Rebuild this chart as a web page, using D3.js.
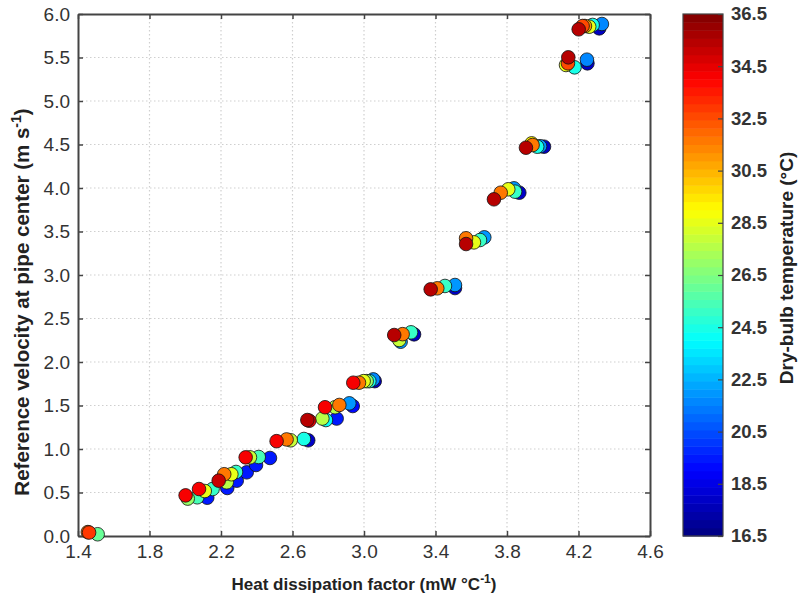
<!DOCTYPE html>
<html lang="en">
<head>
<meta charset="utf-8">
<title>Heat dissipation factor vs reference velocity</title>
<script src="https://cdn.jsdelivr.net/npm/d3@7"></script>
<style>
  body { margin: 0; background: #fff; }
  svg { display: block; font-family: "Liberation Sans", Arial, sans-serif; }
</style>
</head>
<body>
<svg id="chart" width="798" height="602"></svg>
<script>
// data
var heatFactor = [
  1.455, 1.462, 1.51,
  2.014, 2.002, 2.067, 2.077, 2.109, 2.123, 2.153, 2.187, 2.235, 2.232,
  2.218, 2.258, 2.284, 2.288, 2.344, 2.338, 2.362, 2.396, 2.411, 2.474,
  2.511, 2.567, 2.59, 2.664, 2.688, 2.683, 2.694, 2.767, 2.787, 2.847,
  2.782, 2.838, 2.862, 2.918, 2.937,
  2.94, 2.972, 2.998, 3.015, 3.03, 3.052, 3.06,
  3.169, 3.197, 3.205, 3.216, 3.263, 3.28,
  3.373, 3.41, 3.453, 3.509, 3.509,
  3.571, 3.571, 3.615, 3.649, 3.673,
  3.727, 3.765, 3.807, 3.839, 3.845, 3.869,
  3.906, 3.938, 3.943, 3.969, 3.985, 4.007,
  4.13, 4.141, 4.143, 4.178, 4.25, 4.247,
  4.201, 4.223, 4.236, 4.26, 4.279, 4.316, 4.331
];
var velocity = [
  0.045, 0.04, 0.02,
  0.43, 0.467, 0.445, 0.54, 0.517, 0.44, 0.54, 0.636, 0.552, 0.617,
  0.71, 0.71, 0.736, 0.636, 0.732, 0.904, 0.904, 0.816, 0.908, 0.897,
  1.09, 1.11, 1.10, 1.115, 1.10, 1.333, 1.325, 1.35, 1.333, 1.35,
  1.48, 1.48, 1.506, 1.525, 1.494,
  1.762, 1.762, 1.78, 1.78, 1.78, 1.80, 1.78,
  2.31, 2.253, 2.233, 2.32, 2.341, 2.318,
  2.835, 2.847, 2.874, 2.85, 2.885,
  3.356, 3.422, 3.375, 3.402, 3.433,
  3.87, 3.946, 3.985, 3.996, 3.958, 3.946,
  4.463, 4.513, 4.494, 4.475, 4.48, 4.475,
  5.414, 5.433, 5.502, 5.387, 5.433, 5.475,
  5.824, 5.862, 5.862, 5.854, 5.874, 5.835, 5.885
];
var temperature = [
  31.5, 33, 26,
  27, 34, 25.5, 34, 28.5, 19.5, 25, 35, 19.5, 27.5,
  31.5, 28.5, 25, 19.5, 19.5, 34, 28, 19.5, 25.5, 19.5,
  34, 31.5, 28, 24.5, 18, 35.5, 34, 27.5, 24, 19.5,
  34, 27.5, 31.5, 22, 19,
  34, 31.5, 28.5, 27, 24.5, 21.5, 18,
  35.5, 28, 22, 31.5, 25, 18,
  35.5, 31.5, 25, 18, 22,
  35.5, 31.5, 28.5, 25, 22,
  35.5, 31.5, 28.5, 22, 25, 18,
  35.5, 29, 31.5, 24.5, 22, 18,
  28.5, 32.5, 35.5, 24.5, 18, 21.5,
  35.5, 32.5, 31, 28.5, 24.5, 18, 21.5
];
var xTicks = [1.4, 1.8, 2.2, 2.6, 3.0, 3.4, 3.8, 4.2, 4.6];
var yTicks = [0, 0.5, 1, 1.5, 2, 2.5, 3, 3.5, 4, 4.5, 5, 5.5, 6];
var cbarTicks = [16.5, 18.5, 20.5, 22.5, 24.5, 26.5, 28.5, 30.5, 32.5, 34.5, 36.5];

var svg = d3.select('#chart');
var pLeft = 78, pRight = 650, pTop = 14, pBottom = 536;

var x = d3.scaleLinear().domain([1.4, 4.6]).range([pLeft, pRight]);
var y = d3.scaleLinear().domain([0, 6]).range([pBottom, pTop]);
var tnorm = d3.scaleLinear().domain([16.5, 36.5]).range([0, 1]).clamp(true);

// matlab style jet, 64 levels
function jet(t) {
  var i = Math.min(63, Math.floor(t * 64));
  var q = (i + 0.5) / 64;
  function c(v) { return Math.round(255 * Math.max(0, Math.min(1, v))); }
  return d3.rgb(c(1.5 - Math.abs(4 * q - 3)), c(1.5 - Math.abs(4 * q - 2)), c(1.5 - Math.abs(4 * q - 1))).toString();
}
function tempColor(T) { return jet(tnorm(T)); }

// grid
var grid = svg.append('g');
grid.selectAll('.gx').data(xTicks.slice(1, -1)).enter().append('line')
    .attr('x1', d => x(d)).attr('x2', d => x(d))
    .attr('y1', pTop).attr('y2', pBottom)
    .attr('stroke', '#cfcfcf').attr('stroke-width', 1.2).attr('stroke-dasharray', '1.5,2.5');
grid.selectAll('.gy').data(yTicks.slice(1, -1)).enter().append('line')
    .attr('y1', d => y(d)).attr('y2', d => y(d))
    .attr('x1', pLeft).attr('x2', pRight)
    .attr('stroke', '#cfcfcf').attr('stroke-width', 1.2).attr('stroke-dasharray', '1.5,2.5');

// axes (ticks inward, box on)
var axisColor = '#444';
var xAxis = svg.append('g').attr('transform', 'translate(0,' + pBottom + ')')
    .call(d3.axisBottom(x).tickValues(xTicks).tickFormat(d3.format('.1f')).tickSizeInner(-5).tickSizeOuter(0).tickPadding(9));
var xTop = svg.append('g').attr('transform', 'translate(0,' + pTop + ')')
    .call(d3.axisTop(x).tickValues(xTicks).tickFormat('').tickSizeInner(-5).tickSizeOuter(0));
var yAxis = svg.append('g').attr('transform', 'translate(' + pLeft + ',0)')
    .call(d3.axisLeft(y).tickValues(yTicks).tickFormat(d3.format('.1f')).tickSizeInner(-5).tickSizeOuter(0).tickPadding(8));
var yRight = svg.append('g').attr('transform', 'translate(' + pRight + ',0)')
    .call(d3.axisRight(y).tickValues(yTicks).tickFormat('').tickSizeInner(-5).tickSizeOuter(0));
[xAxis, xTop, yAxis, yRight].forEach(function(g) {
  g.select('.domain').attr('stroke', axisColor).attr('stroke-width', 2);
  g.selectAll('.tick line').attr('stroke', axisColor).attr('stroke-width', 1.5);
  g.selectAll('.tick text').style('font-size', '19px').attr('fill', '#333');
});

// points, cooler first so warm ones sit on top
var idx = d3.range(heatFactor.length).sort((a, b) => temperature[a] - temperature[b]);
svg.append('g').selectAll('circle').data(idx).enter().append('circle')
    .attr('cx', i => x(heatFactor[i]))
    .attr('cy', i => y(velocity[i]))
    .attr('r', 6.8)
    .attr('fill', i => tempColor(temperature[i]))
    .attr('stroke', '#111').attr('stroke-width', 0.8);

// axis titles
svg.append('text')
    .attr('x', (pLeft + pRight) / 2).attr('y', 590)
    .attr('text-anchor', 'middle')
    .style('font-size', '17px').style('font-weight', 'bold').attr('fill', '#222')
    .html('Heat dissipation factor (mW °C<tspan dy="-7" font-size="12px">-1</tspan><tspan dy="7">)</tspan>');
svg.append('text')
    .attr('transform', 'translate(29,302) rotate(-90)')
    .attr('text-anchor', 'middle')
    .style('font-size', '20.5px').style('font-weight', 'bold').attr('fill', '#222')
    .html('Reference velocity at pipe center (m s<tspan dy="-8" font-size="14px">-1</tspan><tspan dy="8">)</tspan>');

// colorbar
var cbLeft = 683, cbRight = 723;
var cy = d3.scaleLinear().domain([16.5, 36.5]).range([pBottom, pTop]);
var bands = d3.range(64);
svg.append('g').selectAll('rect').data(bands).enter().append('rect')
    .attr('x', cbLeft).attr('width', cbRight - cbLeft)
    .attr('y', i => cy(16.5 + (i + 1) * 20 / 64))
    .attr('height', i => cy(16.5 + i * 20 / 64) - cy(16.5 + (i + 1) * 20 / 64) + 0.5)
    .attr('fill', i => jet((i + 0.5) / 64));
svg.append('rect').attr('x', cbLeft).attr('y', pTop)
    .attr('width', cbRight - cbLeft).attr('height', pBottom - pTop)
    .attr('fill', 'none').attr('stroke', axisColor).attr('stroke-width', 1.2);
var cAxis = svg.append('g').attr('transform', 'translate(' + cbRight + ',0)')
    .call(d3.axisRight(cy).tickValues(cbarTicks).tickFormat(d3.format('.1f')).tickSizeInner(-5).tickSizeOuter(0).tickPadding(8));
cAxis.select('.domain').remove();
cAxis.selectAll('.tick line').attr('stroke', axisColor).attr('stroke-width', 1.2);
cAxis.selectAll('.tick text').style('font-size', '18.5px').style('font-weight', 'bold').attr('fill', '#333');
svg.append('text')
    .attr('transform', 'translate(793,268) rotate(-90)')
    .attr('text-anchor', 'middle')
    .style('font-size', '19px').style('font-weight', 'bold').attr('fill', '#222')
    .text('Dry-bulb temperature (°C)');
</script>
</body>
</html>
